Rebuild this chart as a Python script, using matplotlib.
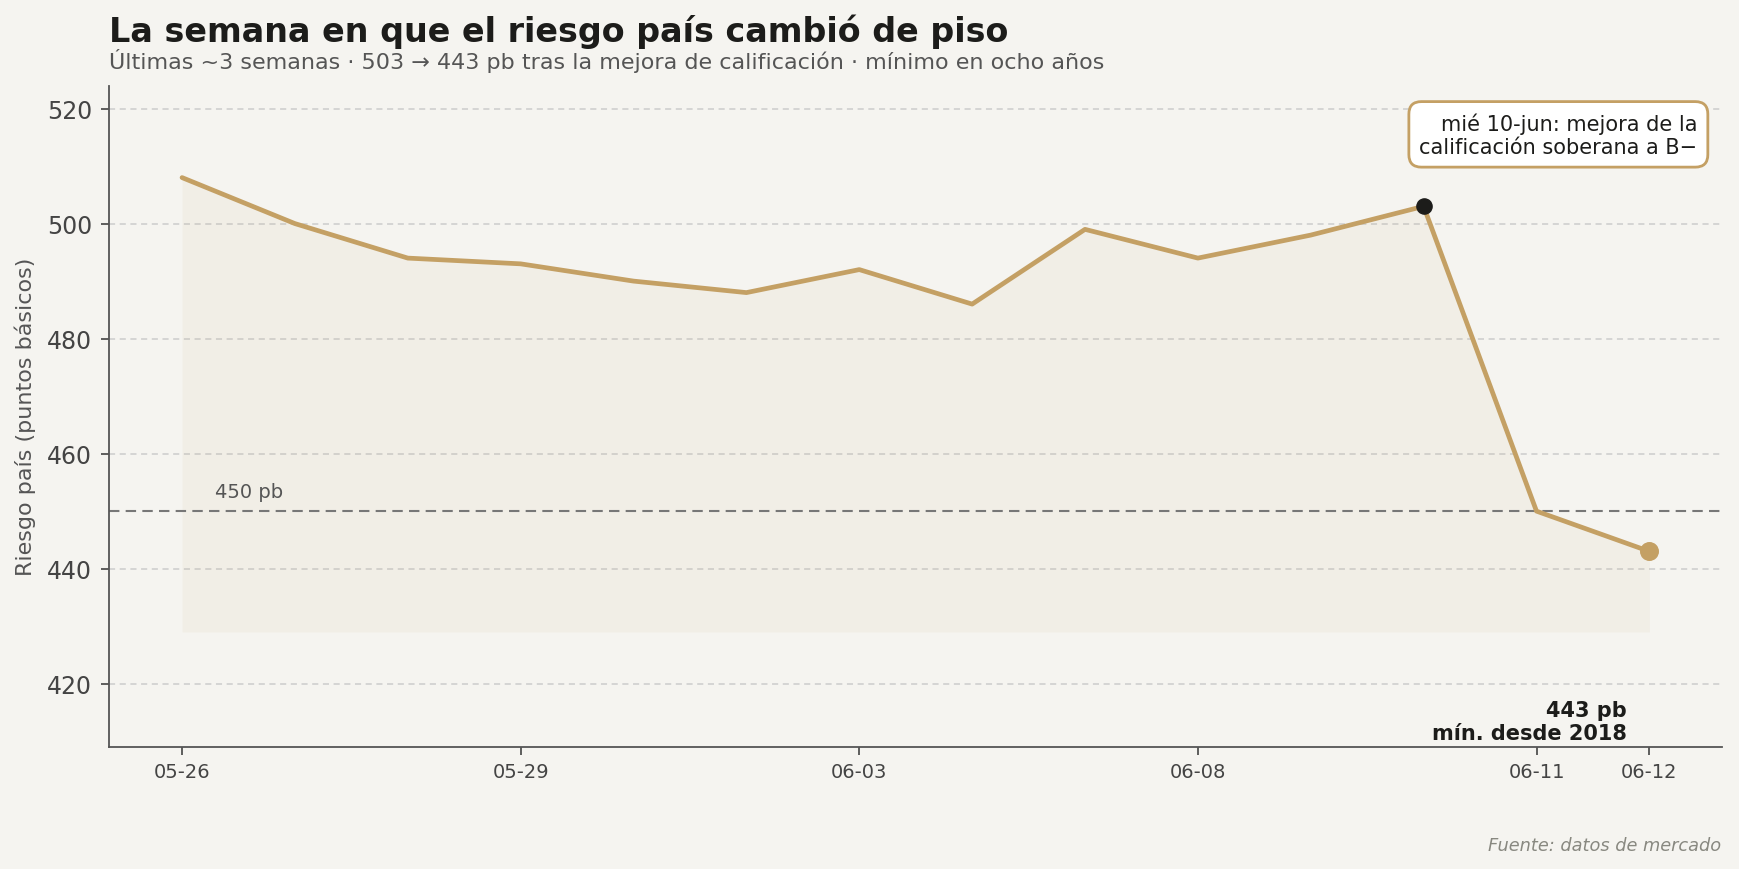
import matplotlib.pyplot as plt

dates = ['05-26', '05-27', '05-28', '05-29', '06-01', '06-02', '06-03',
         '06-04', '06-05', '06-08', '06-09', '06-10', '06-11', '06-12']
riesgo = [508, 500, 494, 493, 490, 488, 492, 486, 499, 494, 498, 503, 450, 443]
tick_idx = [0, 3, 6, 9, 12, 13]
event_idx = 11
umbral = 450

bg = '#f5f4f0'
gold = '#c4a064'
dark = '#1c1c1a'

fig = plt.figure(figsize=(17.39, 8.7), dpi=100, facecolor=bg)
ax = fig.add_axes([0.0625, 0.1403, 0.9275, 0.7602])
ax.set_facecolor(bg)

x = list(range(len(riesgo)))
ax.fill_between(x, riesgo, min(riesgo) - 14, color=gold, alpha=0.07, lw=0)
ax.plot(x, riesgo, color=gold, lw=3.4, solid_capstyle='round', zorder=3)
ax.scatter([event_idx], [riesgo[event_idx]], s=120, color=dark, zorder=4)
ax.scatter([x[-1]], [riesgo[-1]], s=160, color=gold, zorder=4)

ax.axhline(umbral, color='#777777', lw=1.5, ls=(0, (5, 3)), zorder=2)
ax.text(0.29, umbral + 1.8, f'{umbral} pb', fontsize=14, color='#555555', va='bottom')

ax.set_xlim(-0.65, 13.64)
ax.set_ylim(409, 524)
ax.set_yticks([420, 440, 460, 480, 500, 520])
ax.set_xticks(tick_idx)
ax.set_xticklabels([dates[i] for i in tick_idx])
ax.tick_params(axis='x', labelsize=14, colors='#444444', length=6, width=1.2, pad=5)
ax.tick_params(axis='y', labelsize=17, colors='#444444', length=6, width=1.2, pad=6)
ax.grid(axis='y', color='#cccccc', ls=(0, (4, 3)), lw=1.1)
ax.set_axisbelow(True)
for s in ['top', 'right']:
    ax.spines[s].set_visible(False)
for s in ['left', 'bottom']:
    ax.spines[s].set_color('#555555')
    ax.spines[s].set_linewidth(1.3)

ax.set_ylabel('Riesgo país (puntos básicos)', fontsize=16, color='#555555', labelpad=8)

ax.text(0.985, 0.96, 'mié 10-jun: mejora de la\ncalificación soberana a B−',
        transform=ax.transAxes, ha='right', va='top', fontsize=15, color=dark,
        multialignment='right',
        bbox=dict(boxstyle='round,pad=0.5,rounding_size=0.6', fc='white', ec=gold, lw=2))

ax.annotate(f'{riesgo[-1]} pb\nmín. desde 2018', xy=(x[-1], riesgo[-1]),
            xytext=(x[-1] - 0.2, 409.6), ha='right', va='bottom',
            fontsize=15, fontweight='bold', color=dark, multialignment='right')

fig.text(0.0625, 0.964, 'La semana en que el riesgo país cambió de piso',
         fontsize=24, fontweight='bold', color=dark, va='center')
fig.text(0.0625, 0.930, 'Últimas ~3 semanas · 503 → 443 pb tras la mejora de calificación · mínimo en ocho años',
         fontsize=16, color='#555555', va='center')
fig.text(0.990, 0.028, 'Fuente: datos de mercado', fontsize=12.8, style='italic',
         color='#888880', ha='right', va='center')

fig.savefig('out.png', dpi=100, facecolor=bg)
